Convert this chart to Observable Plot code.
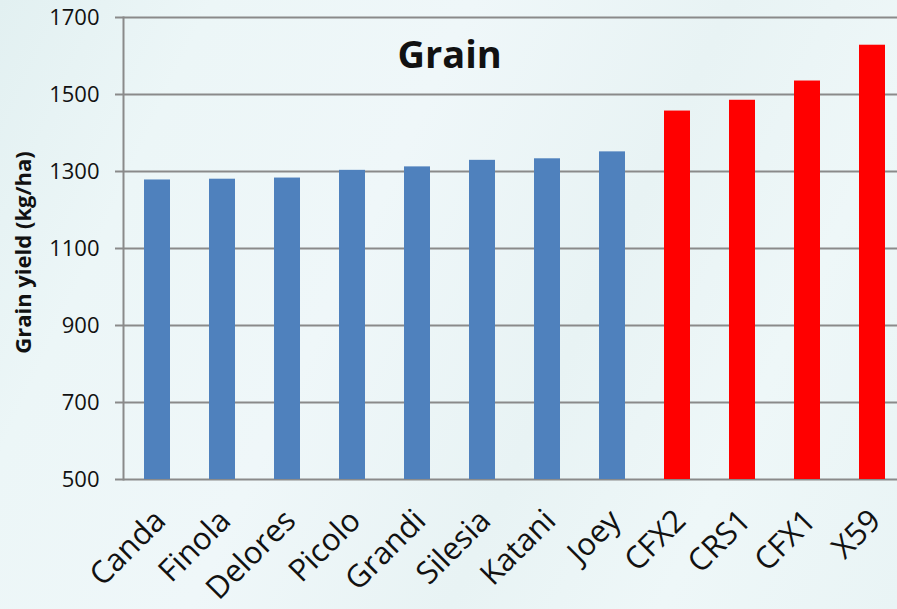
<!DOCTYPE html>
<html>
<head>
<meta charset="utf-8">
<script src="https://cdn.jsdelivr.net/npm/d3@7"></script>
<script src="https://cdn.jsdelivr.net/npm/@observablehq/plot@0.6"></script>
<style>
  html, body { margin: 0; padding: 0; overflow: hidden; }
  body {
    width: 897px; height: 609px;
    background: linear-gradient(115deg, #e2f0f1 0%, #ecf6f7 18%, #eff7f9 40%, #e8f3f4 62%, #eef7f8 80%, #e9f4f5 100%);
    font-family: "Open Sans", sans-serif;
  }
  #chart { position: relative; width: 897px; height: 609px; }
</style>
</head>
<body>
<div id="chart"></div>
<script>
// Grain yield by variety (kg/ha)
const varieties = ["Canda", "Finola", "Delores", "Picolo", "Grandi", "Silesia", "Katani", "Joey", "CFX2", "CRS1", "CFX1", "X59"];
const yields = [1278, 1280, 1283, 1303, 1312, 1329, 1333, 1351, 1457, 1485, 1535, 1628];
const groups = ["base", "base", "base", "base", "base", "base", "base", "base", "highlight", "highlight", "highlight", "highlight"];
const yTicks = [500, 700, 900, 1100, 1300, 1500, 1700];

const data = varieties.map((v, i) => ({variety: v, yield: yields[i], group: groups[i]}));

const chart = Plot.plot({
  width: 897,
  height: 609,
  marginTop: 17,
  marginBottom: 130,
  marginLeft: 123,
  marginRight: 0,
  style: {background: "transparent", fontFamily: "Open Sans, sans-serif", overflow: "hidden"},
  x: {domain: varieties, range: [123, 905], paddingInner: 0.6, paddingOuter: 0.3, label: null},
  y: {domain: [500, 1700], clamp: true, label: null},
  color: {domain: ["base", "highlight"], range: ["#4f81bd", "#ff0000"]},
  marks: [
    Plot.ruleY(yTicks, {stroke: "#8a8a8a", strokeWidth: 2}),
    Plot.barY(data, {x: "variety", y: "yield", fill: "group"}),
    Plot.frame({anchor: "left", stroke: "#8a8a8a", strokeWidth: 2}),
    Plot.axisY({ticks: yTicks, tickFormat: d => String(d), tickSize: 8, tickPadding: 16, stroke: "#8a8a8a", strokeWidth: 2, fontSize: 22, fill: "#111", label: null}),
    Plot.axisX({tickSize: 0, tickRotate: -45, tickPadding: 36, dx: 3, fontSize: 31, fill: "#111", label: null}),
    Plot.text(["Grain yield (kg/ha)"], {frameAnchor: "left", textAnchor: "middle", dx: -100, dy: 4, rotate: -90, fontSize: 22, fontWeight: "bold", fill: "#111"}),
    Plot.text(["Grain"], {frameAnchor: "top-left", dx: 274, dy: 24, fontSize: 38, fontWeight: "bold", fill: "#111"})
  ]
});
document.getElementById("chart").appendChild(chart);
</script>
</body>
</html>
